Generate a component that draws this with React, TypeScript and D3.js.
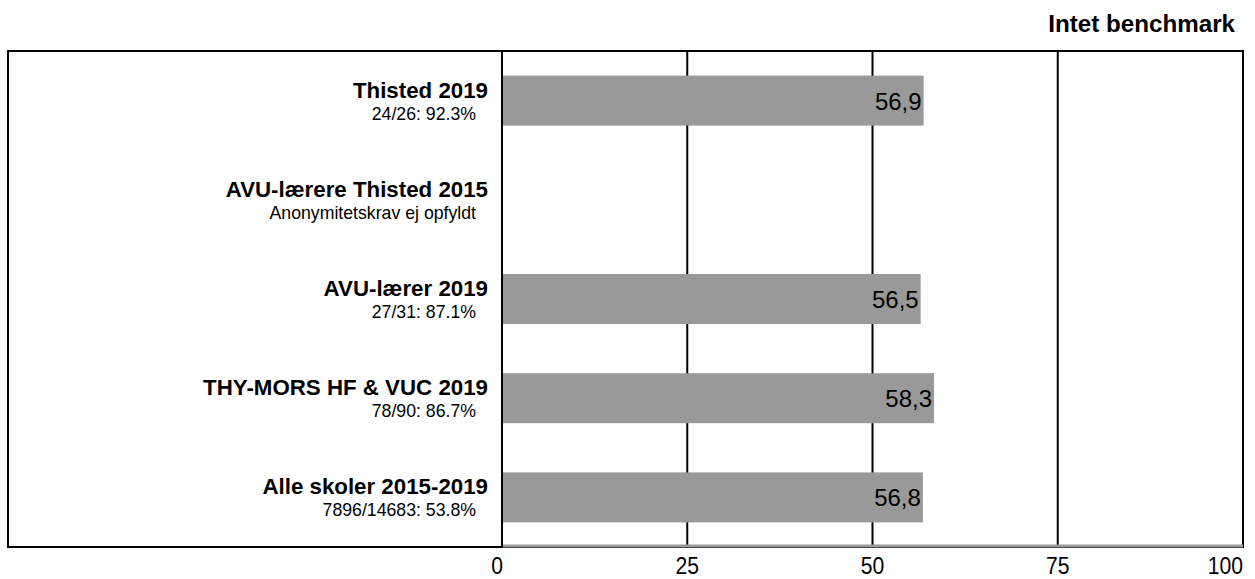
import React from "react";
import * as d3 from "d3";

const categories = [
  "Thisted 2019",
  "AVU-lærere Thisted 2015",
  "AVU-lærer 2019",
  "THY-MORS HF & VUC 2019",
  "Alle skoler 2015-2019",
];
const subLabels = [
  "24/26: 92.3%",
  "Anonymitetskrav ej opfyldt",
  "27/31: 87.1%",
  "78/90: 86.7%",
  "7896/14683: 53.8%",
];
const values: (number | null)[] = [56.9, null, 56.5, 58.3, 56.8];
const ticks = [0, 25, 50, 75, 100];
const title = "Intet benchmark";

const W = 1255;
const H = 579;
const boxL = 8;
const boxR = 1243;
const boxT = 51;
const boxB = 547;
const plotL = 502;

export default function App() {
  const x = d3.scaleLinear().domain([0, 100]).range([plotL, boxR]);
  const y = d3.scaleBand().domain(categories).range([boxT, boxB]).paddingInner(0).paddingOuter(0);
  const bh = 50;
  const font = "Arial, 'Liberation Sans', Helvetica, sans-serif";
  const fmt = (v: number) => v.toFixed(1).replace(".", ",");

  return (
    <svg
      width={W}
      height={H}
      style={{ position: "absolute", left: 0, top: 0, display: "block", background: "#fff" }}
      fontFamily={font}
    >
      <text x={1235} y={32} textAnchor="end" fontWeight="bold" fontSize={24.2} fill="#000">
        {title}
      </text>
      {/* gridlines */}
      {ticks.slice(0, -1).map((t) => (
        <line key={t} x1={x(t)} x2={x(t)} y1={boxT} y2={boxB} stroke="#000" strokeWidth={2} />
      ))}
      {/* bars */}
      {categories.map((c, i) => {
        const v = values[i];
        const cy = (y(c) as number) + y.bandwidth() / 2;
        return (
          <g key={c}>
            {v !== null && (
              <rect x={x(0) + 1} y={cy - bh / 2} width={x(v) - x(0) - 1} height={bh} fill="#999999" />
            )}
          </g>
        );
      })}
      {/* box */}
      <rect x={boxL} y={boxT} width={boxR - boxL} height={boxB - boxT} fill="none" stroke="#000" strokeWidth={2} />
      {/* axis line */}
      <line x1={x(0) + 1} x2={x(100)} y1={boxB - 1} y2={boxB - 1} stroke="#999999" strokeWidth={3} />
      {/* value labels */}
      {categories.map((c, i) => {
        const v = values[i];
        const cy = (y(c) as number) + y.bandwidth() / 2;
        return v !== null ? (
          <text key={c} x={x(v) - 2} y={cy + 9} textAnchor="end" fontSize={24} fill="#000">
            {fmt(v)}
          </text>
        ) : null;
      })}
      {/* category labels */}
      {categories.map((c, i) => {
        const cy = (y(c) as number) + y.bandwidth() / 2;
        return (
          <g key={c}>
            <text x={488} y={cy - 3} textAnchor="end" fontWeight="bold" fontSize={22.3} fill="#000">
              {c}
            </text>
            <text x={476} y={cy + 19} textAnchor="end" fontSize={17.7} fill="#000">
              {subLabels[i]}
            </text>
          </g>
        );
      })}
      {/* tick labels */}
      {ticks.map((t, i) => {
        const px = x(t);
        const anchor = i === 0 ? "end" : i === ticks.length - 1 ? "end" : "middle";
        const tx = i === 0 ? px + 1 : px;
        return (
          <text
            key={t}
            x={0}
            y={0}
            textAnchor={anchor}
            fontSize={24}
            fill="#000"
            transform={`translate(${tx},574) scale(0.88,1)`}
          >
            {t}
          </text>
        );
      })}
    </svg>
  );
}
